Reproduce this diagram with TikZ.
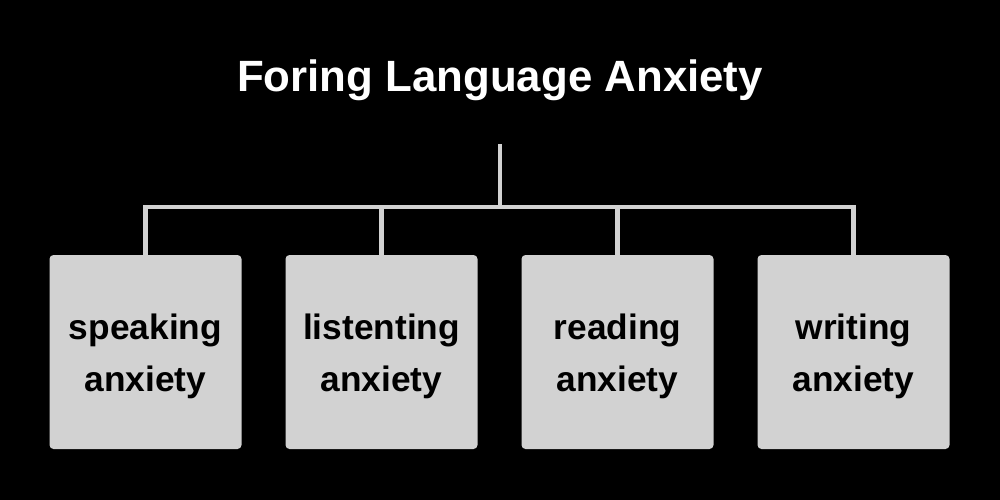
\documentclass[tikz,border=0pt]{standalone}
\usepackage{fontspec}
\setmainfont{Liberation Sans}
\begin{document}
\begin{tikzpicture}[x=1pt,y=-1pt,
  box/.style={fill=boxgray,rounded corners=4pt,minimum width=192pt,minimum height=194pt,inner sep=0pt},
  boxtext/.style={font=\fontsize{35.3}{52}\selectfont\bfseries,align=center,text=black,inner sep=0pt},
  link/.style={draw=boxgray,line width=4.5pt}]
\definecolor{boxgray}{HTML}{D2D2D2}
\fill[black] (0,0) rectangle (1000,500);
\useasboundingbox (0,0) rectangle (1000,500);
\node[text=white,font=\fontsize{43.8}{50}\selectfont\bfseries] (title) at (500,80) {Foring Language Anxiety};
\node[box] (b1) at (145.5,352) {};
\node[box] (b2) at (381.5,352) {};
\node[box] (b3) at (617.5,352) {};
\node[box] (b4) at (853.5,352) {};
\node[boxtext] (t1) at ([yshift=-4pt]b1.center) {speaking\\anxiety};
\node[boxtext] (t2) at ([yshift=-4pt]b2.center) {listenting\\anxiety};
\node[boxtext] (t3) at ([yshift=-4pt]b3.center) {reading\\anxiety};
\node[boxtext] (t4) at ([yshift=-4pt]b4.center) {writing\\anxiety};
\coordinate (top) at (500,144);
\coordinate (bar) at (500,207);
\draw[link] (top) -- (bar);
\draw[link,line cap=rect] (b1.north |- bar) -- (b4.north |- bar);
\foreach \b in {b1,b2,b3,b4}{\draw[link] (\b.north |- bar) -- (\b.north);}
\end{tikzpicture}
\end{document}
